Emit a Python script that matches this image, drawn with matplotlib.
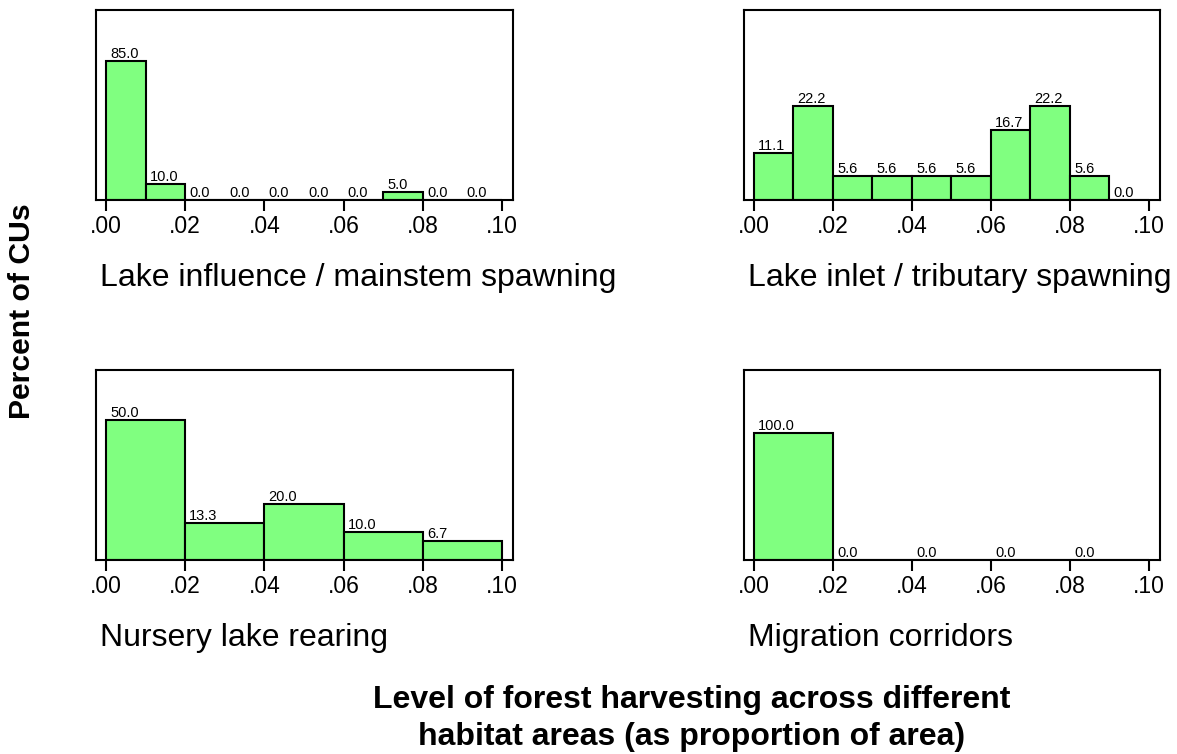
import matplotlib.pyplot as plt

plt.rcParams['font.family'] = ['Liberation Sans', 'DejaVu Sans']

titles = ["Lake influence / mainstem spawning", "Lake inlet / tributary spawning",
          "Nursery lake rearing", "Migration corridors"]

# bin edges (left) and widths
edges_fine = [0.00, 0.01, 0.02, 0.03, 0.04, 0.05, 0.06, 0.07, 0.08, 0.09]
edges_coarse = [0.00, 0.02, 0.04, 0.06, 0.08]

pct_mainstem = [85.0, 10.0, 0.0, 0.0, 0.0, 0.0, 0.0, 5.0, 0.0, 0.0]
pct_tributary = [11.1, 22.2, 5.6, 5.6, 5.6, 5.6, 16.7, 22.2, 5.6, 0.0]
pct_nursery = [50.0, 13.3, 20.0, 10.0, 6.7]
pct_migration = [100.0, 0.0, 0.0, 0.0, 0.0]

panels = [
    (edges_fine, 0.01, pct_mainstem, 116),
    (edges_fine, 0.01, pct_tributary, 45),
    (edges_coarse, 0.02, pct_nursery, 68),
    (edges_coarse, 0.02, pct_migration, 150),
]

ticks = [0.00, 0.02, 0.04, 0.06, 0.08, 0.10]
tick_labels = [".00", ".02", ".04", ".06", ".08", ".10"]

fig = plt.figure(figsize=(11.77, 7.54), dpi=100)

positions = [
    [0.0816, 0.7347, 0.3543, 0.252],
    [0.6321, 0.7347, 0.3534, 0.252],
    [0.0816, 0.2573, 0.3543, 0.252],
    [0.6321, 0.2573, 0.3534, 0.252],
]

for pos, (edges, w, vals, ymax), title in zip(positions, panels, titles):
    ax = fig.add_axes(pos)
    ax.bar(edges, vals, width=w, align='edge', color='#80ff80',
           edgecolor='black', linewidth=1.5, zorder=2)
    for x, v in zip(edges, vals):
        ax.annotate(f"{v:.1f}", (x, v), xytext=(3, 0), textcoords='offset points',
                    ha='left', va='bottom', fontsize=10.5)
    ax.set_xlim(-0.0025, 0.1028)
    ax.set_ylim(0, ymax)
    ax.set_yticks([])
    ax.set_xticks(ticks)
    ax.set_xticklabels(tick_labels, fontsize=16.5)
    ax.tick_params(axis='x', direction='out', length=8, width=1.5, pad=3)
    for s in ax.spines.values():
        s.set_linewidth(1.5)
    ax.text(0.01, -0.41, title, transform=ax.transAxes, fontsize=23,
            ha='left', va='center')

fig.text(0.0187, 0.5875, "Percent of CUs", rotation=90, fontsize=21.7,
         fontweight='bold', ha='center', va='center')
fig.text(0.5875, 0.047, "Level of forest harvesting across different\nhabitat areas (as proportion of area)",
         fontsize=23, fontweight='bold', ha='center', va='center', linespacing=1.3)

fig.savefig("out.png", dpi=100)
